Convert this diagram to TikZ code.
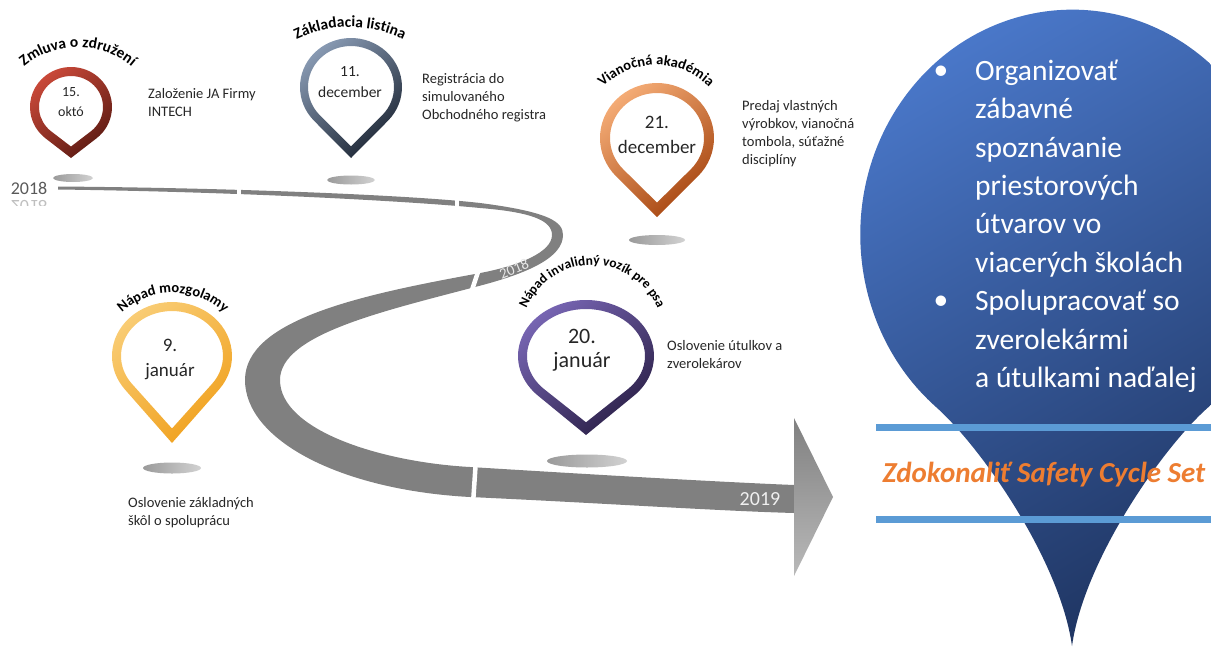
\documentclass[tikz,border=0pt]{standalone}
\usepackage{fontspec}
\setmainfont{Carlito}
\usetikzlibrary{decorations.text}
\definecolor{ribbon}{HTML}{808080}
\definecolor{txt}{HTML}{262626}
\definecolor{shA}{HTML}{9A9A9A}
\definecolor{shB}{HTML}{D2D2D2}
\definecolor{p1a}{HTML}{CC4A3A}
\definecolor{p1b}{HTML}{5A1A12}
\definecolor{p2a}{HTML}{8A9CB5}
\definecolor{p2b}{HTML}{1C2533}
\definecolor{p3a}{HTML}{F6AE78}
\definecolor{p3b}{HTML}{A5440F}
\definecolor{p4a}{HTML}{F9CD76}
\definecolor{p4b}{HTML}{F0A01C}
\definecolor{p5a}{HTML}{7866B4}
\definecolor{p5b}{HTML}{2A1F46}
\definecolor{bA}{HTML}{4A78CA}
\definecolor{bB}{HTML}{1F3562}
\definecolor{bline}{HTML}{5B9BD5}
\definecolor{orZ}{HTML}{ED7D31}
\newcommand\arcL{\fontsize{15.5}{15.5}\selectfont\bfseries}
\newcommand\arcM{\fontsize{14.5}{14.5}\selectfont\bfseries}
\newcommand\arcS{\fontsize{13.5}{13.5}\selectfont\bfseries}
% #1 cx, #2 cy (down), #3 rx, #4 ry, #5 tip y (down), #6 ring width, #7 #8 colours
\newcommand\drawpin[8]{%
 \pgfmathsetmacro\pD{(#5-#2)/#4}%
 \pgfmathsetmacro\pB{acos(1/\pD)}%
 \pgfmathsetmacro\pA{-90+\pB}%
 \pgfmathsetmacro\pE{270-\pB}%
 \pgfmathsetmacro\pX{#1+#3*cos(\pA)}%
 \pgfmathsetmacro\pY{-#2+#4*sin(\pA)}%
 \pgfmathsetmacro\qrx{#3-#6}%
 \pgfmathsetmacro\qry{#4-#6}%
 \pgfmathsetmacro\qtip{#5-#6*\pD}%
 \pgfmathsetmacro\qD{(\qtip-#2)/\qry}%
 \pgfmathsetmacro\qB{acos(1/\qD)}%
 \pgfmathsetmacro\qA{-90+\qB}%
 \pgfmathsetmacro\qE{270-\qB}%
 \pgfmathsetmacro\qX{#1+\qrx*cos(\qA)}%
 \pgfmathsetmacro\qY{-#2+\qry*sin(\qA)}%
 \shade[even odd rule, top color=#7, bottom color=#8, shading angle=40]
   (#1,-#5) -- (\pX,\pY) arc[start angle=\pA, end angle=\pE, x radius=#3, y radius=#4] -- cycle
   (#1,-\qtip) -- (\qX,\qY) arc[start angle=\qA, end angle=\qE, x radius=\qrx, y radius=\qry] -- cycle;
}
\tikzset{
 desc/.style={font=\fontsize{14.5}{18}\selectfont, text=txt, align=left, anchor=west, inner sep=0pt},
 date/.style={text=txt, align=center, inner sep=0pt},
 shadow/.style={left color=shA, right color=shB},
 gap/.style={draw=white, line width=4.5pt},
 arctext/.style={decorate, decoration={text along path, text align=center, text={#1}}},
 big/.style={font=\fontsize{29.5}{38.4}\selectfont, text=white, align=left, anchor=west, inner sep=0pt},
 bul/.style={font=\fontsize{29.5}{38.4}\selectfont, text=white, inner sep=0pt},
 bluebar/.style={draw=bline, line width=7pt},
}
\begin{document}
\begin{tikzpicture}[x=1pt,y=1pt]
\path[use as bounding box] (0,0) rectangle (1211,-646);
\clip (0,0) rectangle (1211,-646);

% ---------- timeline ribbon ----------
\fill[ribbon] (58,-186.5) .. controls (250,-188) and (420,-196) .. (480,-203)
  .. controls (550,-212) and (563,-222) .. (563,-235)
  .. controls (563,-257) and (530,-273) .. (475,-287)
  .. controls (380,-312) and (280,-335) .. (280,-380)
  .. controls (280,-430) and (380,-462) .. (470,-467)
  .. controls (600,-475) and (720,-482) .. (794,-485)
  -- (794,-513)
  .. controls (720,-511) and (600,-503) .. (470,-497)
  .. controls (340,-490) and (245,-440) .. (245,-380)
  .. controls (245,-320) and (360,-295) .. (475,-274)
  .. controls (520,-266) and (552,-252) .. (552,-235)
  .. controls (552,-220) and (530,-212) .. (480,-208)
  .. controls (420,-202) and (250,-192) .. (58,-189.5) -- cycle;
\shade[top color=ribbon, middle color=ribbon, bottom color=ribbon!55!white]
  (794,-418) -- (833,-497) -- (794,-576) -- cycle;
\draw[gap] (239,-183) -- (239,-196);
\draw[gap] (457,-196) -- (457,-212);
\draw[gap] (479,-269) -- (471,-293);
\draw[gap] (476,-459) -- (473,-504);

\node[rotate=22, text=white!82!gray, font=\fontsize{15}{15}\selectfont, inner sep=0pt] (r18) at (514,-269) {2018};
\node[text=white!88!gray, font=\fontsize{20}{20}\selectfont, inner sep=0pt] (y19) at (760,-499) {2019};
\node[text=black!65, font=\fontsize{18}{18}\selectfont, inner sep=0pt] (y18) at (29,-188) {2018};
\begin{scope}
  \clip (0,-197) rectangle (60,-205);
  \begin{scope}[shift={(29,-207)}, yscale=-1]
    \node[transform shape, text=black!25, font=\fontsize{18}{18}\selectfont, inner sep=0pt] (y18r) at (0,0) {2018};
  \end{scope}
\end{scope}

% ---------- shadows ----------
\shade[shadow] (73,-178) ellipse[x radius=20, y radius=4];
\shade[shadow] (351,-180) ellipse[x radius=24, y radius=4.5];
\shade[shadow] (657,-240) ellipse[x radius=28, y radius=5];
\shade[shadow] (172,-468) ellipse[x radius=29, y radius=5.5];
\shade[shadow] (587,-461) ellipse[x radius=40, y radius=6.5];

% ---------- pins ----------
\drawpin{71}{107}{41}{40}{158}{9}{p1a}{p1b}
\drawpin{351}{87}{51}{49}{158}{8}{p2a}{p2b}
\drawpin{657}{138}{57}{55}{217}{10}{p3a}{p3b}
\drawpin{172}{356}{60}{54}{443}{9}{p4a}{p4b}
\drawpin{586}{356}{68}{56}{435}{9}{p5a}{p5b}

\node[date, font=\fontsize{14}{20}\selectfont] (d1) at (71,-102) {15.\\októ};
\node[date, font=\fontsize{15.5}{21}\selectfont] (d2) at (350,-82.5) {11.\\december};
\node[date, font=\fontsize{19}{25}\selectfont] (d3) at (657,-134.5) {21.\\december};
\node[date, font=\fontsize{19}{25}\selectfont] (d4) at (170,-359.5) {9.\\január};
\node[date, font=\fontsize{22}{24}\selectfont] (d5) at (582,-350) {20.\\január};

\path[arctext={|\arcL|Zmluva o združení}] (78,-130) ++(160:83) arc[start angle=160, end angle=20, radius=83];
\path[arctext={|\arcL|Základacia listina}] (350,-150) ++(150:123) arc[start angle=150, end angle=30, radius=123];
\path[arctext={|\arcM|Vianočná akadémia}] (656,-140) ++(165:75) arc[start angle=165, end angle=15, radius=75];
\path[arctext={|\arcM|Nápad mozgolamy}] (173,-368) ++(165:75) arc[start angle=165, end angle=15, radius=75];
\path[arctext={|\arcS|Nápad invalidný vozík pre psa}] (592,-336) ++(175:71) arc[start angle=175, end angle=5, radius=71];

\node[desc] (e1) at (148,-102.5) {Založenie JA Firmy\\INTECH};
\node[desc] (e2) at (422,-97.5) {Registrácia do\\simulovaného\\Obchodného registra};
\node[desc] (e3) at (742,-133.5) {Predaj vlastných\\výrobkov, vianočná\\tombola, súťažné\\disciplíny};
\node[desc] (e4) at (128,-512.5) {Oslovenie základných\\škôl o spoluprácu};
\node[desc] (e5) at (667,-355) {Oslovenie útulkov a\\zverolekárov};

% ---------- big blue pin ----------
\shade[top color=bA, bottom color=bB, shading angle=30]
  (1072,-646) .. controls (1060,-560) and (981,-447) .. (936,-407)
  arc[start angle=-130, end angle=-410, x radius=212, y radius=225]
  .. controls (1163,-447) and (1084,-560) .. (1072,-646) -- cycle;
\node[bul] (b1) at (941,-73) {•};
\node[big] (t1) at (975,-168.5) {Organizovať\\zábavné\\spoznávanie\\priestorových\\útvarov vo\\viacerých školách};
\node[bul] (b2) at (941,-303) {•};
\node[big] (t2) at (975,-341.5) {Spolupracovať so\\zverolekármi\\a útulkami naďalej};
\draw[bluebar] (876,-427) -- (1211,-427);
\draw[bluebar] (876,-519) -- (1211,-519);
\node[font=\fontsize{29}{29}\selectfont\bfseries\itshape, text=orZ, inner sep=0pt] (zd) at (1044,-475) {Zdokonaliť Safety Cycle Set};
\end{tikzpicture}
\end{document}
